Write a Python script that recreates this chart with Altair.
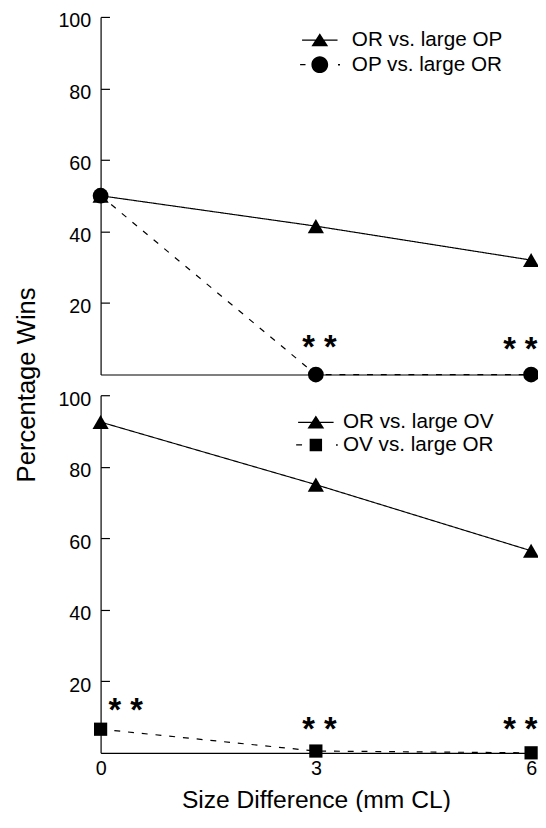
import altair as alt
import pandas as pd

# ---- data ----
sizes = [0, 3, 6]
x_ticks = [0, 3, 6]
y_ticks = [20, 40, 60, 80, 100]

top_names = ["OR vs. large OP", "OP vs. large OR"]
top_or_vs_op = [50, 41.5, 32]
top_op_vs_or = [50, 0, 0]
top_star_x = [3.05, 5.85]
top_star_y = [9.5, 9.0]

bot_names = ["OR vs. large OV", "OV vs. large OR"]
bot_or_vs_ov = [92.5, 75, 56.5]
bot_ov_vs_or = [6.6, 0.5, 0]
bot_star_x = [0.35, 3.05, 5.85]
bot_star_y = [13.8, 8.6, 8.6]

star_text = "* *"

FONT = "Liberation Sans"
W, H = 437, 363

# legend symbols: line + marker as filled custom SVG paths (unit = sqrt(size)/2 px)
tri_path = ("M-1.8,-0.065L1.8,-0.065L1.8,0.065L-1.8,0.065Z"
            "M0,-0.7L0.85,0.62L-0.85,0.62Z")
circ_path = ("M-2,-0.065L-1.45,-0.065L-1.45,0.065L-2,0.065Z"
             "M1.85,-0.08L2.05,-0.08L2.05,0.08L1.85,0.08Z"
             "M-0.85,0A0.85,0.85,0,1,1,0.85,0A0.85,0.85,0,1,1,-0.85,0Z")
sq_path = ("M-2,-0.065L-1.4,-0.065L-1.4,0.065L-2,0.065Z"
           "M2.05,-0.08L2.22,-0.08L2.22,0.08L2.05,0.08Z"
           "M-0.63,-0.63L0.63,-0.63L0.63,0.63L-0.63,0.63Z")


def panel(names, vals_a, vals_b, mshapes, msizes, lpaths, leg_x, leg_y,
          leg_offset, leg_rowpad, star_x, star_y, bottom):
    df = pd.DataFrame({
        "size": sizes + sizes,
        "pct": vals_a + vals_b,
        "series": [names[0]] * 3 + [names[1]] * 3,
    })
    stars = pd.DataFrame({"size": star_x, "pct": star_y, "lab": [star_text] * len(star_x)})

    xs = alt.Scale(domain=[0, 6], nice=False, zero=False)
    ys = alt.Scale(domain=[0, 100], nice=False, zero=True)

    if bottom:
        x_axis = alt.Axis(values=x_ticks, ticks=False, grid=False, labelFontSize=20,
                          labelPadding=6, title="Size Difference (mm CL)",
                          titleFontSize=25, titlePadding=9, labelFlush=False)
        y_left = alt.Axis(orient="left", values=y_ticks, ticks=False, grid=False,
                          labelFontSize=20, labelPadding=10, labelOffset=4,
                          title="Percentage Wins",
                          titleFontSize=26, titleAngle=-90, titleX=-75, titleY=-11,
                          titleAlign="center", titleBaseline="middle")
    else:
        x_axis = alt.Axis(values=x_ticks, ticks=False, grid=False, labels=False, title=None)
        y_left = alt.Axis(orient="left", values=y_ticks, ticks=False, grid=False,
                          labelFontSize=20, labelPadding=10, labelOffset=4, title=None)

    y_right = alt.Axis(orient="right", offset=-W, values=y_ticks, ticks=True, tickSize=9,
                       labels=False, domain=False, grid=False, title=None)

    X = alt.X("size:Q", scale=xs, axis=x_axis)

    lines = alt.Chart(df).mark_line(color="black", strokeWidth=1.2).encode(
        x=X,
        y=alt.Y("pct:Q", scale=ys, axis=y_left),
        detail="series:N",
        strokeDash=alt.StrokeDash("series:N", scale=alt.Scale(domain=names, range=[[1, 0], [6, 8]]),
                                  legend=None),
    )
    pts = alt.Chart(df).mark_point(filled=True, color="black", opacity=1).encode(
        x=X,
        y=alt.Y("pct:Q", scale=ys, axis=y_right),
        shape=alt.Shape("series:N", scale=alt.Scale(domain=names, range=mshapes), legend=None),
        size=alt.Size("series:N", scale=alt.Scale(domain=names, range=msizes), legend=None),
    )
    leg = alt.Chart(df).mark_point(filled=True, color="black", opacity=0).encode(
        x=X,
        y=alt.Y("pct:Q", scale=ys, axis=None),
        shape=alt.Shape("series:N", scale=alt.Scale(domain=names, range=lpaths),
                        legend=alt.Legend(orient="none", legendX=leg_x, legendY=leg_y, title=None,
                                          labelFontSize=21, labelFont=FONT, labelColor="black",
                                          symbolSize=400, symbolOpacity=1,
                                          symbolFillColor="black", symbolStrokeWidth=0,
                                          labelOffset=leg_offset,
                                          rowPadding=leg_rowpad, padding=0)),
    )
    st = alt.Chart(stars).mark_text(font=FONT, fontSize=33, fontWeight="bold",
                                    baseline="alphabetic", dy=18, color="black").encode(
        x=X,
        y=alt.Y("pct:Q", scale=ys, axis=None),
        text="lab:N",
    )
    return (alt.layer(lines, pts, leg, st)
            .resolve_scale(shape="independent", size="independent", strokeDash="independent")
            .resolve_axis(y="independent")
            .properties(width=W, height=H))


top = panel(top_names, top_or_vs_op, top_op_vs_or, ["triangle-up", "circle"], [270, 256],
            [tri_path, circ_path], 212, 13, 22, 3, top_star_x, top_star_y, False)
bottom = panel(bot_names, bot_or_vs_ov, bot_ov_vs_or, ["triangle-up", "square"], [270, 180],
               [tri_path, sq_path], 208, 17, 17, 1, bot_star_x, bot_star_y, True)

chart = (alt.vconcat(top, bottom, spacing=21, bounds="flush")
         .properties(padding={"left": 5, "top": -3, "right": -2, "bottom": -6}, background="white")
         .configure_view(stroke=None)
         .configure_axis(labelFont=FONT, titleFont=FONT, labelColor="black", titleColor="black",
                         domainColor="black", tickColor="black", domainWidth=1.2, tickWidth=1.2,
                         titleFontWeight="normal")
         .configure_legend(labelFont=FONT, labelColor="black"))

chart.save("out.html", embed_options={"renderer": "svg", "actions": False})
